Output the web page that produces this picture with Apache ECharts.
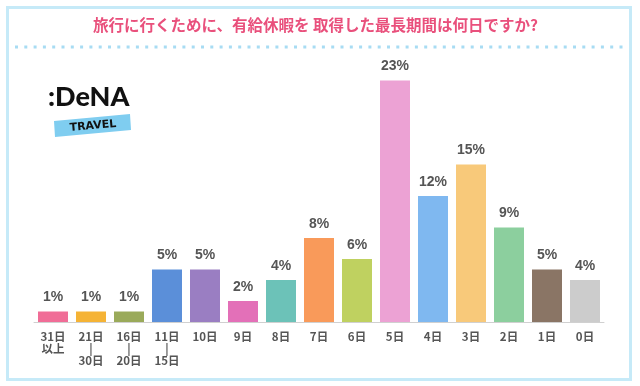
<!DOCTYPE html>
<html><head><meta charset="utf-8">
<script src="https://cdn.jsdelivr.net/npm/echarts@6/dist/echarts.min.js"></script>
<style>html,body{margin:0;padding:0;background:#fff}#c{width:640px;height:386px}</style>
</head><body><div id="c"></div>
<script>
const titleText = '旅行に行くために、有給休暇を 取得した最長期間は何日ですか?';
const categories = ['31日\n以上','21日\n|\n30日','16日\n|\n20日','11日\n|\n15日','10日','9日','8日','7日','6日','5日','4日','3日','2日','1日','0日'];
const values = [1,1,1,5,5,2,4,8,6,23,12,15,9,5,4];
const colors = ['#f06d97','#f5b335','#9aaa5a','#5b8fd9','#9a7ec2','#e370b8','#6cc2b8','#f99a5a','#bfd160','#eca2d4','#7fb8f0','#f8c97a','#8ccf9e','#8a7565','#cccccc'];

const FONT = '"Noto Sans CJK JP", "Noto Sans", sans-serif';
const chart = echarts.init(document.getElementById('c'), null, {renderer:'canvas'});
chart.setOption({
  backgroundColor:'#fff',
  animation:false,
  title:{text:titleText,left:88,top:12,textStyle:{color:'#e9507c',fontSize:15.5,fontWeight:'bold',fontFamily:FONT}},
  grid:{left:34,right:36,top:59.5,bottom:64},
  xAxis:{type:'category',data:categories,
    axisLine:{lineStyle:{color:'#d0d0d0',width:1}},axisTick:{show:false},
    axisLabel:{interval:0,color:'#555',fontSize:11.5,fontWeight:'bold',lineHeight:12,margin:9,fontFamily:FONT}},
  yAxis:{type:'value',min:0,max:25,show:false,splitLine:{show:false}},
  series:[{type:'bar',barWidth:30,
    data:values.map((v,i)=>({value:v,itemStyle:{color:colors[i]}})),
    label:{show:true,position:'top',distance:7,formatter:'{c}%',color:'#555',fontSize:14,fontWeight:'bold',fontFamily:'"Liberation Sans", Arial, sans-serif'}}],
  graphic:[
    {type:'rect',shape:{x:7.5,y:7.5,width:623,height:372},style:{fill:'none',stroke:'#c6eaf8',lineWidth:3},silent:true},
    {type:'line',shape:{x1:15,y1:47,x2:626,y2:47},style:{stroke:'#a8dcf3',lineWidth:3,lineDash:[3,6.3]},silent:true},
    {type:'polygon',shape:{points:[[54,121],[130,114],[131,130],[55,137]]},style:{fill:'#7fcdf0'},silent:true},
    {type:'text',x:93,y:126,rotation:0.09,style:{text:'TRAVEL',fill:'#111',font:'bold 11px "DejaVu Sans", sans-serif',textAlign:'center',textVerticalAlign:'middle'},silent:true},
    {type:'text',x:48,y:97,style:{text:':DeNA',fill:'#111',font:'900 27px Lato, "DejaVu Sans", sans-serif',textAlign:'left',textVerticalAlign:'middle'},silent:true}
  ]
});
</script></body></html>
